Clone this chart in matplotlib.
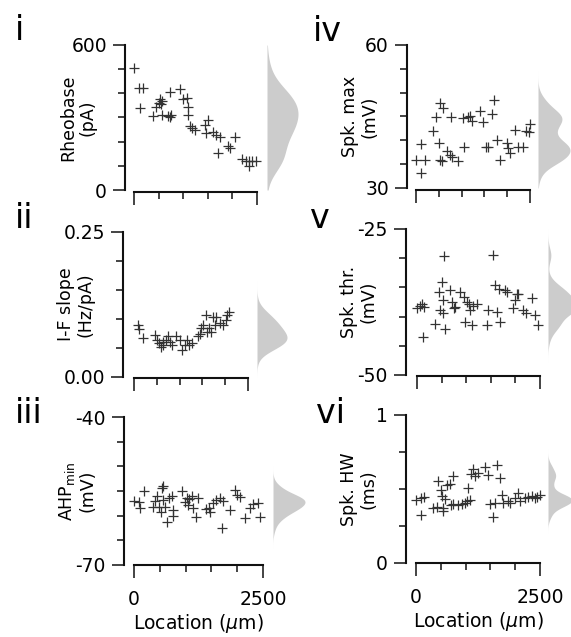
import numpy as np
import matplotlib
matplotlib.use("Agg")
import matplotlib.pyplot as plt

plt.rcParams['font.family'] = ['DejaVu Sans']
plt.rcParams['mathtext.fontset'] = 'dejavusans'
plt.rcParams['axes.unicode_minus'] = False

# ---------------- data ----------------
# i  Rheobase (pA)
loc_i = [0, 101, 189, 122, 392, 446, 500, 530, 560, 545, 560, 700, 730, 760, 735, 932, 1000, 1070,
         1100, 1100, 1135, 1180, 1236, 1440, 1507, 1473, 1608, 1676, 1743, 1912, 1946, 2047, 1709,
         2200, 2270, 2338, 2400, 2473, 2338]
val_i = [506, 423, 423, 338, 306, 345, 362, 375, 370, 355, 310, 305, 300, 310, 407, 417, 375, 380,
         345, 310, 265, 255, 250, 269, 290, 234, 240, 228, 221, 182, 172, 220, 152,
         127, 122, 120, 122, 122, 100]

# ii  I-F slope (Hz/pA)
loc_ii = [95, 117, 204, 459, 510, 554, 583, 627, 641, 700, 751, 787, 824, 918, 1006, 1042, 1115,
          1152, 1210, 1261, 1407, 1443, 1480, 1516, 1574, 1603, 1647, 1698, 1735, 1771, 1808, 1880,
          1953, 2012, 2041, 2085]
val_ii = [0.090, 0.083, 0.067, 0.072, 0.064, 0.058, 0.051, 0.061, 0.055, 0.064, 0.070, 0.061, 0.055,
          0.070, 0.064, 0.047, 0.055, 0.064, 0.055, 0.058, 0.070, 0.075, 0.084, 0.090, 0.107, 0.078,
          0.084, 0.078, 0.104, 0.090, 0.104, 0.093, 0.090, 0.098, 0.107, 0.112]

# iii  AHP min (mV)
loc_iii = [0, 103, 116, 193, 361, 406, 438, 490, 515, 535, 567, 554, 599, 631, 683, 728, 760, 747,
           921, 986, 1018, 1050, 1070, 1115, 1147, 1198, 1244, 1405, 1456, 1482, 1533, 1598, 1662,
           1714, 1727, 1856, 1952, 1997, 2049, 2146, 2255, 2307, 2403, 2436]
val_iii = [-57.0, -57.2, -58.5, -54.9, -58.2, -57.0, -56.1, -58.2, -59.2, -54.3, -54.0, -56.8, -58.2,
           -61.2, -56.5, -56.1, -58.9, -60.1, -55.1, -57.2, -56.5, -57.8, -56.7, -56.1, -58.5, -60.2,
           -56.5, -58.7, -58.5, -59.2, -57.5, -56.8, -56.5, -62.6, -57.0, -58.9, -54.8, -55.8, -56.3,
           -60.5, -58.5, -57.6, -57.4, -60.3]

# iv  Spk. max (mV)
loc_iv = [0, 197, 102, 102, 380, 439, 526, 512, 526, 563, 599, 673, 746, 768, 782, 928, 1038, 1060,
          1148, 1184, 1221, 1404, 1477, 1535, 1586, 1659, 1718, 1769, 1842, 1988, 2025, 2061, 2171,
          2244, 2339, 2412, 2500, 2485]
val_iv = [35.9, 35.9, 39.2, 33.1, 41.9, 44.8, 47.8, 39.4, 35.9, 35.7, 46.8, 37.8, 37.0, 44.8, 36.6,
          35.6, 44.7, 38.6, 44.8, 45.0, 44.1, 46.1, 43.8, 38.5, 38.5, 45.5, 48.5, 40.1, 35.9, 39.4,
          38.4, 37.3, 42.2, 38.5, 38.5, 41.9, 43.4, 41.7]

# v  Spk. thr. (mV)
loc_v = [0, 68, 101, 149, 122, 372, 439, 473, 507, 527, 527, 574, 676, 709, 743, 777, 878, 946, 980,
         1014, 1047, 1081, 1115, 1135, 1216, 541, 1541, 1453, 1432, 1635, 1689, 1588, 1676, 1791,
         1838, 1959, 1993, 2027, 2061, 2162, 2216, 2331, 2399, 2466]
val_v = [-38.5, -38.1, -37.8, -38.4, -43.5, -41.2, -35.8, -38.9, -34.1, -37.2, -39.4, -42.1, -35.5,
         -37.5, -38.5, -38.4, -35.8, -36.6, -40.9, -37.5, -37.8, -38.9, -41.5, -38.1, -37.8, -29.6,
         -29.4, -38.8, -41.5, -39.2, -40.9, -34.6, -35.2, -35.5, -35.8, -38.5, -37.2, -36.1, -36.2,
         -38.8, -39.3, -36.8, -39.7, -41.4]

# vi  Spk. HW (ms)
loc_vi = [0, 94, 161, 94, 349, 417, 450, 497, 517, 538, 551, 585, 618, 685, 699, 753, 753, 853, 921,
          988, 1022, 1089, 1055, 1102, 1156, 1190, 1257, 1391, 1458, 1559, 1492, 1593, 1626, 1694,
          1727, 1761, 1862, 1895, 1996, 2063, 2097, 2198, 2265, 2332, 2399, 2446, 2500]
val_vi = [0.428, 0.439, 0.444, 0.327, 0.372, 0.376, 0.556, 0.495, 0.450, 0.372, 0.349, 0.435, 0.525,
          0.534, 0.390, 0.586, 0.399, 0.394, 0.399, 0.405, 0.421, 0.428, 0.507, 0.601, 0.637, 0.586,
          0.608, 0.646, 0.597, 0.309, 0.399, 0.405, 0.660, 0.574, 0.457, 0.405, 0.417, 0.405, 0.439,
          0.473, 0.421, 0.439, 0.444, 0.450, 0.439, 0.444, 0.462]

panel_tags = ['i', 'ii', 'iii', 'iv', 'v', 'vi']
ylabels = ['Rheobase\n(pA)', 'I-F slope\n(Hz/pA)', 'AHP$_{\\mathrm{min}}$\n(mV)',
           'Spk. max\n(mV)', 'Spk. thr.\n(mV)', 'Spk. HW\n(ms)']
ylims = [(0, 600), (0.0, 0.25), (-70, -40), (30, 60), (-50, -25), (0, 1)]
ytick_labels = [('0', '600'), ('0.00', '0.25'), ('-70', '-40'), ('30', '60'), ('-50', '-25'), ('0', '1')]
ystep = [100, 0.05, 5, 5, 5, 0.25]
xlim = (0, 2500)
xtick_labels = ('0', '2500')
xlabel = 'Location ($\\mu$m)'

series = [(loc_i, val_i), (loc_ii, val_ii), (loc_iii, val_iii),
          (loc_iv, val_iv), (loc_v, val_v), (loc_vi, val_vi)]

# ---------------- layout (pixels) ----------------
W, H = 571, 637
fig = plt.figure(figsize=(W / 100, H / 100), dpi=100)

# x0, x1, ytop, ybottom, left spine offset, bottom spine offset, density x0, density width, bw
geom = [
    (134, 257, 45, 190, 9, 2, 267, 31, 55),
    (134, 248, 232, 377, 11, 1, 257, 30, 0.014),
    (134, 263, 417, 565, 10, 0, 273, 32, 1.1),
    (416, 530, 45, 188, 9, 2, 538, 32, 1.6),
    (417, 540, 229, 375, 11, 1, 548, 30, 1.2),
    (416, 540, 415, 563, 10, 0, 548, 24, 0.03),
]
tag_pos = [(15, 40), (15, 228), (15, 423), (313, 41), (310, 228), (316, 423)]


def frac(x0, x1, yt, yb):
    return [x0 / W, 1 - yb / H, (x1 - x0) / W, (yb - yt) / H]


pt = 0.72
for k in range(6):
    x0, x1, yt, yb, loff, boff, dx0, dw, bw = geom[k]
    lo, hi = ylims[k]
    ax = fig.add_axes(frac(x0, x1, yt, yb))
    ax.set_xlim(*xlim)
    ax.set_ylim(lo, hi)
    for s in ['top', 'right']:
        ax.spines[s].set_visible(False)
    ax.spines['left'].set_position(('outward', loff * pt))
    ax.spines['bottom'].set_position(('outward', boff * pt))
    for s in ['left', 'bottom']:
        ax.spines[s].set_linewidth(1.5)
        ax.spines[s].set_color('#111111')
    ax.set_xticks(list(xlim))
    ax.set_xticks(np.arange(500, 2500, 500), minor=True)
    ax.set_yticks([lo, hi])
    ax.set_yticks(np.arange(lo + ystep[k], hi - ystep[k] / 2, ystep[k]), minor=True)
    ax.set_yticklabels(ytick_labels[k])
    ax.tick_params(which='major', length=9, width=1.1, direction='out', labelsize=13.5,
                   pad=4, color='#111111')
    ax.tick_params(which='minor', length=5, width=1.1, direction='out', color='#111111')
    ax.tick_params(axis='x', which='major', pad=9)
    if k in (2, 5):
        ax.set_xticklabels(xtick_labels)
        ax.set_xlabel(xlabel, fontsize=13.5, labelpad=2)
    else:
        ax.set_xticklabels(['', ''])
    ax.set_ylabel(ylabels[k], fontsize=12.5, linespacing=1.1)
    spine_x = x0 - loff
    ax.yaxis.set_label_coords(-(x0 - (spine_x - 47)) / (x1 - x0), 0.5)
    ax.yaxis.label.set_horizontalalignment('center')
    ax.yaxis.label.set_verticalalignment('center')

    xs, ys = series[k]
    ax.plot(xs, ys, linestyle='none', marker='+', markersize=7, markeredgewidth=0.9,
            color='#333333', clip_on=False)

    # density (Gaussian kernel estimate of the values)
    dax = fig.add_axes(frac(dx0, dx0 + dw, yt, yb))
    dax.set_ylim(lo, hi)
    dax.set_xlim(0, 1)
    dax.axis('off')
    yy = np.linspace(lo, hi, 500)
    v = np.asarray(ys)
    dens = np.exp(-0.5 * ((yy[:, None] - v[None, :]) / bw) ** 2).sum(axis=1)
    dens = dens / dens.max()
    dax.fill_betweenx(yy, 0, dens, color='#cccccc', lw=0)

    fig.text(tag_pos[k][0] / W, 1 - tag_pos[k][1] / H, panel_tags[k], fontsize=24,
             ha='left', va='baseline')

fig.savefig('out.png', dpi=100)
